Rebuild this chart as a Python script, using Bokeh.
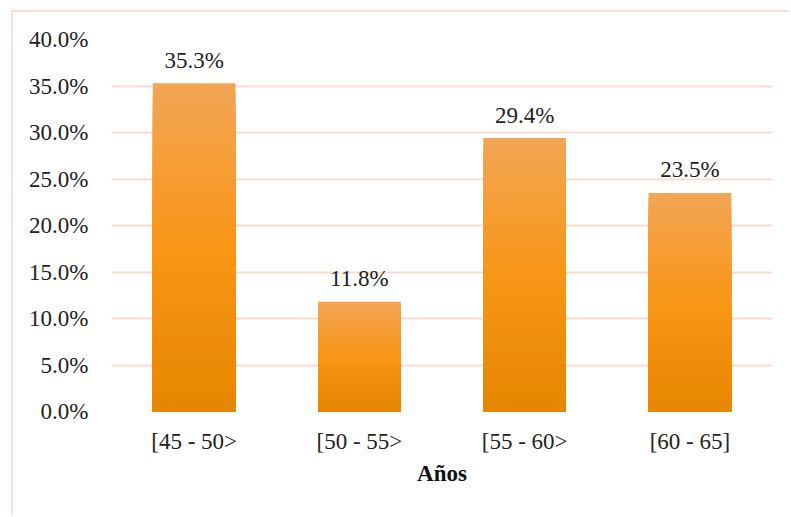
from bokeh.plotting import figure
from bokeh.models import (ColumnDataSource, FactorRange, Range1d, NumeralTickFormatter,
                          LabelSet, FixedTicker)
from bokeh.core.properties import value
from bokeh.embed import file_html
from bokeh.resources import INLINE

categories = ["[45 - 50>", "[50 - 55>", "[55 - 60>", "[60 - 65]"]
values = [0.353, 0.118, 0.294, 0.235]
labels = ["35.3%", "11.8%", "29.4%", "23.5%"]
y_ticks = [0.0, 0.05, 0.10, 0.15, 0.20, 0.25, 0.30, 0.35, 0.40]

FONT = "Liberation Serif, Times New Roman, serif"
GRID = "#FADCD1"
FS = "23px"

# gradient stops (fraction of bar height -> colour), style only
stops = [(0.0, (230, 134, 0)), (0.5, (248, 150, 22)), (1.0, (243, 165, 85))]

def grad(f):
    for (f0, c0), (f1, c1) in zip(stops[:-1], stops[1:]):
        if f0 <= f <= f1:
            t = (f - f0) / (f1 - f0)
            return "#%02x%02x%02x" % tuple(int(round(a + (b - a) * t)) for a, b in zip(c0, c1))
    return "#%02x%02x%02x" % stops[-1][1]

N = 40
sx, st, sc = [], [], []
for i in reversed(range(N)):
    for cat, v in zip(categories, values):
        sx.append(cat)
        st.append(v * (i + 1) / N)
        sc.append(grad((i + 0.5) / N))
seg = ColumnDataSource(dict(x=sx, top=st, color=sc))
src = ColumnDataSource(dict(x=categories, top=values, label=labels))

p = figure(width=778, height=505, x_range=FactorRange(*categories), y_range=Range1d(0, 0.4),
           output_backend="svg", toolbar_location=None,
           min_border_left=98, min_border_right=19, min_border_top=27, min_border_bottom=106)
p.styles = {"border-left": "2px solid #FBE0D6", "border-top": "2px solid #FBE0D6",
            "margin-left": "11px", "margin-top": "10px"}
p.outline_line_color = None
p.background_fill_color = "white"
p.border_fill_color = "white"

p.vbar(x="x", bottom=0, top="top", width=0.5, source=seg,
       fill_color="color", line_color=None)

p.add_layout(LabelSet(x="x", y="top", text="label", source=src, y_offset=23,
                      text_align="center", text_baseline="middle",
                      text_font=value(FONT), text_font_size=FS, text_color="#222222"))

p.xgrid.grid_line_color = None
p.ygrid.grid_line_color = GRID
p.ygrid.grid_line_width = 2
p.ygrid.ticker = FixedTicker(ticks=y_ticks)

p.yaxis.ticker = FixedTicker(ticks=y_ticks)
p.yaxis.formatter = NumeralTickFormatter(format="0.0%")
for ax in (p.xaxis[0], p.yaxis[0]):
    ax.axis_line_color = None
    ax.major_tick_line_color = None
    ax.minor_tick_line_color = None
    ax.major_tick_out = 0
    ax.major_tick_in = 0
    ax.major_label_text_font = FONT
    ax.major_label_text_font_size = FS
    ax.major_label_text_color = "#222222"
p.yaxis.major_label_standoff = 23
p.xaxis.major_label_standoff = 17
p.xaxis.axis_label = "Años"
p.xaxis.axis_label_text_font = FONT
p.xaxis.axis_label_text_font_style = "bold"
p.xaxis.axis_label_text_font_size = FS
p.xaxis.axis_label_text_color = "#111111"
p.xaxis.axis_label_standoff = 4

open("out.html", "w").write(file_html(p, INLINE))
